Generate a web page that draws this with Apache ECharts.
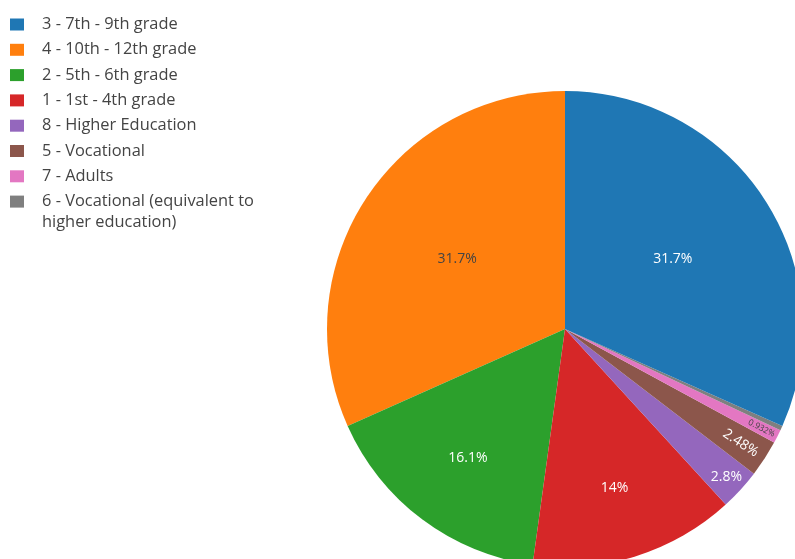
<!DOCTYPE html>
<html>
<head>
<meta charset="utf-8">
<title>Education level distribution</title>
<script src="https://cdn.jsdelivr.net/npm/echarts@6/dist/echarts.min.js"></script>
<style>
  html, body { margin: 0; padding: 0; background: #ffffff; }
  #chart { width: 795px; height: 559px; }
</style>
</head>
<body>
<div id="chart"></div>
<script>
// Slice order as drawn counter-clockwise from 12 o'clock
const categories = [
  '4 - 10th - 12th grade',
  '2 - 5th - 6th grade',
  '1 - 1st - 4th grade',
  '8 - Higher Education',
  '5 - Vocational',
  '7 - Adults',
  '6 - Vocational (equivalent to higher education)',
  '3 - 7th - 9th grade'
];
const counts = [102, 52, 45, 9, 8, 3, 1, 102];

// Legend order
const legendOrder = [
  '3 - 7th - 9th grade',
  '4 - 10th - 12th grade',
  '2 - 5th - 6th grade',
  '1 - 1st - 4th grade',
  '8 - Higher Education',
  '5 - Vocational',
  '7 - Adults',
  '6 - Vocational (equivalent to higher education)'
];

const colors = ['#ff7f0e', '#2ca02c', '#d62728', '#9467bd', '#8c564b', '#e377c2', '#7f7f7f', '#1f77b4'];
const labelColors = ['#444444', '#ffffff', '#ffffff', '#ffffff', '#ffffff', '#444444', '#ffffff', '#ffffff'];
const labelSizes = [14, 14, 14, 14, 14, 8.5, 14, 14];
const labelShown = [true, true, true, true, true, true, false, true];
const labelRadial = [false, false, false, false, true, true, false, false];
// radial placement of each slice label, as a fraction of the radius
const labelRadiusFrac = [0.54, 0.68, 0.70, 0.92, 0.88, 0.925, 0.9, 0.54];

const CX = 565, CY = 329, R = 238;
const LEGEND_FONT = 16.4;

const total = counts.reduce((a, b) => a + b, 0);
const midAngles = [];
{
  let acc = 0;
  counts.forEach(v => {
    midAngles.push((acc + v / 2) / total * 2 * Math.PI);
    acc += v;
  });
}

function pct(v) {
  const p = v / total * 100;
  return parseFloat(p.toPrecision(3)) + '%';
}

const chart = echarts.init(document.getElementById('chart'), null, { renderer: 'canvas' });

chart.setOption({
  animation: false,
  color: colors,
  legend: {
    orient: 'vertical',
    left: 10,
    top: 16.5,
    padding: 0,
    data: legendOrder,
    itemWidth: 14,
    itemHeight: 12,
    itemGap: 9.3,
    icon: 'rect',
    selectedMode: false,
    formatter: function (name) {
      return name.replace(' higher education)', '');
    },
    textStyle: {
      fontFamily: 'Open Sans',
      fontSize: LEGEND_FONT,
      lineHeight: 16,
      padding: [0, 0, 0, 13],
      color: '#444444'
    }
  },
  graphic: [{
    type: 'text',
    left: 42,
    top: 214.5,
    style: {
      text: 'higher education)',
      fontFamily: 'Open Sans',
      fontSize: LEGEND_FONT,
      fill: '#444444'
    }
  }],
  series: [{
    type: 'pie',
    center: [CX, CY],
    radius: R,
    startAngle: 90,
    clockwise: false,
    avoidLabelOverlap: false,
    emphasis: { disabled: true },
    itemStyle: { borderWidth: 0 },
    labelLine: { show: false },
    label: {
      position: 'inside',
      fontFamily: 'Open Sans',
      formatter: p => pct(p.value)
    },
    labelLayout: function (params) {
      const i = params.dataIndex;
      const a = midAngles[i];
      const dx = -Math.sin(a);
      const dy = -Math.cos(a);
      const d = labelRadiusFrac[i] * R;
      const out = {
        x: CX + dx * d,
        y: CY + dy * d,
        align: 'center',
        verticalAlign: 'middle',
        rotate: 0
      };
      if (labelRadial[i]) {
        out.rotate = -Math.atan2(dy, dx) * 180 / Math.PI;
      }
      return out;
    },
    data: categories.map((name, i) => ({
      name: name,
      value: counts[i],
      label: {
        show: labelShown[i],
        color: labelColors[i],
        fontSize: labelSizes[i]
      }
    }))
  }]
});
</script>
</body>
</html>
